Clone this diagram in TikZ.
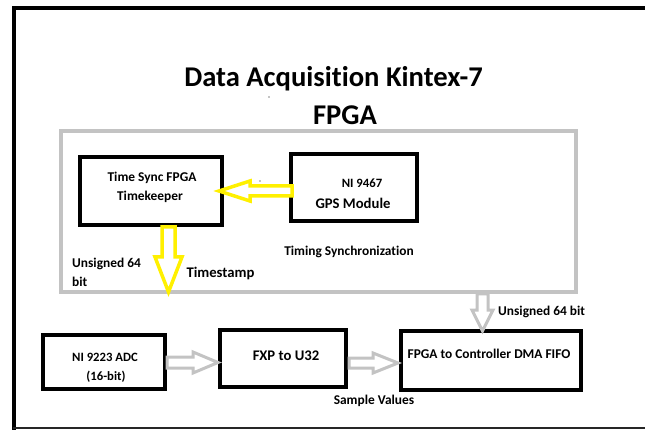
\documentclass[tikz,border=0pt]{standalone}
\usepackage{fontspec}
\setmainfont{Carlito}[Ligatures=NoCommon]
\definecolor{yel}{RGB}{255,240,0}
\definecolor{lgray}{RGB}{195,195,195}
\tikzset{
  blk/.style={draw=black, line width=4pt, fill=white, inner sep=0pt},
  grp/.style={draw=lgray, line width=4pt, inner sep=0pt},
  txt/.style={inner sep=0pt, anchor=base, font=\bfseries\fontsize{13.4}{15}\selectfont},
  big/.style={txt, font=\bfseries\fontsize{14.7}{16}\selectfont},
  sml/.style={txt, font=\bfseries\fontsize{12.7}{14}\selectfont},
  ttl/.style={txt, font=\bfseries\fontsize{28.6}{30}\selectfont},
  yarr/.style={draw=yel, line width=3.5pt, fill=white, line join=miter},
  garr/.style={draw=lgray, line width=3pt, fill=white, line join=miter}
}
\begin{document}
\begin{tikzpicture}[x=1pt,y=-1pt]
\useasboundingbox (0,0) rectangle (645,430);
% outer frame
\draw[line width=4.5pt] (14,430) -- (14,8) -- (646,8);
\draw[line width=2pt, black!85] (13,428) -- (646,428);
% title
\node[ttl] (title1) at (333.5,87) {Data Acquisition Kintex-7};
\node[ttl] (title2) at (345,125) {FPGA};
\fill (269,97) circle (0.7);
\fill (260,181) circle (0.7);
% group box
\node[grp, minimum width=515pt, minimum height=161pt] (grpbox) at (318.5,212) {};
% boxes
\node[blk, minimum width=142pt, minimum height=68pt] (tsync) at (151,191) {};
\node[blk, minimum width=126pt, minimum height=67pt] (gps) at (354,187.5) {};
\node[blk, minimum width=122pt, minimum height=54pt] (adc) at (104,362) {};
\node[blk, minimum width=126pt, minimum height=57pt] (fxp) at (283,358.5) {};
\node[blk, minimum width=180pt, minimum height=59pt] (dma) at (491,360.5) {};
% box texts
\node[txt] (ts1) at (152,182) {Time Sync FPGA};
\node[txt] (ts2) at (150,201) {Timekeeper};
\node[sml] (gp1) at (362,188) {NI 9467};
\node[big] (gp2) at (353,209) {GPS Module};
\node[sml] (ad1) at (105,361) {NI 9223 ADC};
\node[sml] (ad2) at (106,380) {(16-bit)};
\node[big] (fx1) at (286,360) {FXP to U32};
\node[txt] (dm1) at (489,358) {FPGA to Controller DMA FIFO};
% free labels
\node[txt] (tsyn) at (349,256) {Timing Synchronization};
\node[txt, anchor=base west] (u1) at (72,268) {Unsigned 64};
\node[txt, anchor=base west] (u2) at (72,287) {bit};
\node[big] (tstamp) at (220.5,278) {Timestamp};
\node[txt, anchor=base west] (u3) at (498,316) {Unsigned 64 bit};
\node[txt] (sv) at (374,404) {Sample Values};
% block arrows
\draw[yarr] (292,186) -- (250,186) -- (250,181) -- (219,191) -- (250,201) -- (250,196) -- (292,196) -- cycle;
\draw[yarr] (162,227) -- (175,227) -- (175,257) -- (182,257) -- (168.5,292) -- (155,257) -- (162,257) -- cycle;
\draw[garr] (477,294) -- (488,294) -- (488,310) -- (493,310) -- (482.5,331) -- (472,310) -- (477,310) -- cycle;
\draw[garr] (167,357) -- (193,357) -- (193,352) -- (218,362.5) -- (193,373) -- (193,368) -- (167,368) -- cycle;
\draw[garr] (349,358) -- (373,358) -- (373,353) -- (398,363) -- (373,373) -- (373,368) -- (349,368) -- cycle;
\end{tikzpicture}
\end{document}
